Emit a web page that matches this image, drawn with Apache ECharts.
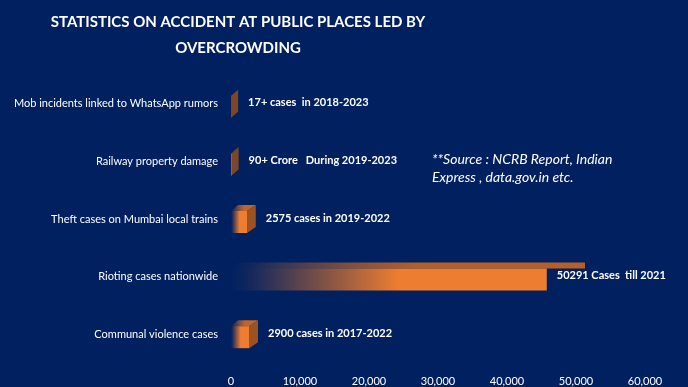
<!DOCTYPE html>
<html><head><meta charset="utf-8">
<script src="https://cdn.jsdelivr.net/npm/echarts@6/dist/echarts.min.js"></script>
<style>html,body{margin:0;padding:0;background:#002060;}#c{width:688px;height:387px;}</style>
</head><body><div id="c"></div>
<script>
const categories = ['Mob incidents linked to WhatsApp rumors','Railway property damage','Theft cases on Mumbai local trains','Rioting cases nationwide','Communal violence cases'];
const values = [17, 90, 2575, 50291, 2900];
const valueLabels = ['17+ cases  in 2018-2023','90+ Crore   During 2019-2023','2575 cases in 2019-2022','50291 Cases  till 2021','2900 cases in 2017-2022'];
const xTicks = [0, 10000, 20000, 30000, 40000, 50000, 60000];
const titleText = 'STATISTICS ON ACCIDENT AT PUBLIC PLACES LED BY\nOVERCROWDING';
const sourceText = '**Source : NCRB Report, Indian\nExpress , data.gov.in etc.';

const FONT = 'Lato';
const ORANGE = '#ED7D31';
const chart = echarts.init(document.getElementById('c'));

function grad(c){
  return new echarts.graphic.LinearGradient(0,0,1,0,[
    {offset:0,color:'rgba(237,125,49,0)'},
    {offset:0.06,color:'rgba(237,125,49,0.08)'},
    {offset:0.53,color:c}
  ]);
}

function renderItem(params, api){
  const idx = api.value(1), v = api.value(0);
  const p0 = api.coord([0, idx]), p1 = api.coord([v, idx]);
  const x0 = p0[0], cy = p0[1], xv = p1[0];
  const fr = x0 + (xv - x0) * 0.91;
  const br = xv + 7;
  const top = cy - 8, bot = cy + 14, dy = -6, dx = 7;
  const wide = (fr - x0) > 100;
  const children = [];
  if (wide) {
    children.push({type:'polygon', shape:{points:[[x0,top],[br,top],[br,top+dy],[x0+dx,top+dy]]}, style:{fill:grad('#B65F27')}});
  } else {
    children.push({type:'polygon', shape:{points:[[x0,top],[fr,top],[br,top+dy],[x0+dx,top+dy]]}, style:{fill:grad('#C0652A')}});
    children.push({type:'polygon', shape:{points:[[fr,top],[br,top+dy],[br,bot+dy],[fr,bot]]}, style:{fill:(fr-x0)<3?'#7E4526':'#9C5223'}});
  }
  children.push({type:'rect', shape:{x:x0, y:top, width:Math.max(fr-x0,0), height:bot-top}, style:{fill:grad(ORANGE)}});
  children.push({type:'text', x:(wide?fr:br)+10, y:cy-1, style:{text:valueLabels[idx], fill:'#fff', font:'bold 11px '+FONT, verticalAlign:'middle', align:'left'}});
  return {type:'group', children};
}

chart.setOption({
  backgroundColor:'#002060',
  animation:false,
  title:{text:titleText, left:233, top:4, textAlign:'center',
    textStyle:{color:'#fff', fontFamily:FONT, fontWeight:'bold', fontSize:15, lineHeight:26}},
  grid:{left:231, right:43, top:75, bottom:24, containLabel:false},
  xAxis:{type:'value', min:xTicks[0], max:xTicks[xTicks.length-1], interval:xTicks[1]-xTicks[0],
    axisLine:{show:false}, axisTick:{show:false}, splitLine:{show:false},
    axisLabel:{color:'#fff', fontFamily:FONT, fontSize:11, margin:13,
      formatter:v=>v.toLocaleString('en-US')}},
  yAxis:{type:'category', data:categories, inverse:true,
    axisLine:{show:false}, axisTick:{show:false}, splitLine:{show:false},
    axisLabel:{color:'#fff', fontFamily:FONT, fontSize:11, margin:13}},
  graphic:[{type:'text', left:432, top:150,
    style:{text:sourceText, fill:'#fff', font:'italic 14px '+FONT, lineHeight:18}}],
  series:[{type:'custom', renderItem, encode:{x:0,y:1}, clip:false,
    data:values.map((v,i)=>[v,i])}]
});
</script></body></html>
